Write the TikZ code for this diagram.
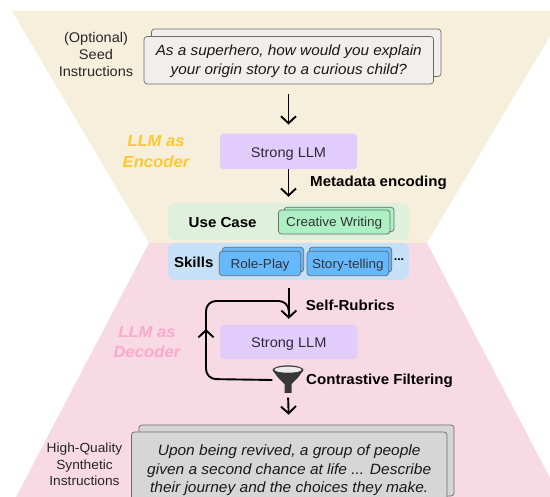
\documentclass[tikz,border=0pt]{standalone}
\usepackage{fontspec}
\setmainfont{Liberation Sans}[FakeStretch=1.04]
\usetikzlibrary{arrows.meta}
\definecolor{creamc}{HTML}{F6EFDC}
\definecolor{pinkc}{HTML}{F8DAE4}
\definecolor{purplec}{HTML}{E2CCFB}
\definecolor{greenp}{HTML}{DFF1DC}
\definecolor{bluep}{HTML}{C5E0F7}
\definecolor{greenb}{HTML}{ADF0C4}
\definecolor{blueb}{HTML}{66B8FF}
\definecolor{seedc}{HTML}{F1EEEC}
\definecolor{outc}{HTML}{D6D6D6}
\definecolor{edgec}{HTML}{6B6B6B}
\definecolor{inkc}{HTML}{2E2A3A}
\definecolor{enc}{HTML}{FFC82C}
\definecolor{dec}{HTML}{FFA8C8}
\newcommand{\fs}[2]{\fontsize{#1}{#2}\selectfont}
\tikzset{
 x=1pt,y=-1pt,
 panel/.style={inner sep=0pt,rounded corners=3pt,anchor=center},
 band/.style={panel,rounded corners=7pt,minimum width=241pt,minimum height=37pt},
 sheet/.style={panel,draw=edgec,line width=.7pt},
 chip/.style={sheet,font=\fs{13}{13}\color{black!80},text height=11pt,text depth=1pt},
 llmbox/.style={panel,fill=purplec,minimum width=137pt,minimum height=35.5pt,font=\fs{14}{14}\color{inkc},text height=13pt,text depth=1pt},
 arr/.style={line width=1.9pt,-{Straight Barb[length=7pt,width=15pt,line width=1.9pt]},black},
 lab/.style={inner sep=0pt,align=center,text depth=0pt},
 boldlab/.style={inner sep=0pt,font=\fs{14.5}{14.5}\bfseries,anchor=west},
 role/.style={inner sep=0pt,align=center},
 quote/.style={sheet,align=center},
}
\begin{document}
\begin{tikzpicture}
\useasboundingbox (0,0) rectangle (550,497);
\begin{scope}
\clip (0,0) rectangle (550,497);
\fill[creamc] (12,11) -- (565,11) -- (427,243) -- (149,243) -- cycle;
\fill[pinkc] (149,243) -- (427,243) -- (560,497) -- (16,497) -- cycle;
\end{scope}

% seed
\node[sheet,fill=seedc,minimum width=289.5pt,minimum height=47.5pt] (seedback) at (296.2,52.8) {};
\node[quote,fill=seedc,minimum width=289.5pt,minimum height=47.5pt,font=\fs{14.7}{19}\itshape\color{black!90},text depth=1pt] (seed) at (288.8,60.2)
  {As a superhero, how would you explain\\your origin story to a curious child?};
\node[lab,font=\fs{14}{17}\color{black!85}] (seedlab) at (96,54.5) {(Optional)\\Seed\\Instructions};

% encoder
\node[llmbox] (llmA) at (288.5,151.5) {Strong LLM};
\node[role,text=enc,font=\fs{16}{21}\bfseries\itshape] (enclab) at (156,152) {LLM as\\Encoder};

% use case
\node[band,fill=greenp] (usepanel) at (288.5,221.5) {};
\node[boldlab,anchor=center] (uselab) at (222.7,222.5) {Use Case};
\node[sheet,fill=greenb,minimum width=110pt,minimum height=24.5pt] (cwback) at (339,219.5) {};
\node[chip,fill=greenb,minimum width=111.5pt,minimum height=24pt] (cw) at (334.2,222) {Creative Writing};

% skills
\node[band,fill=bluep] (skillpanel) at (288.5,261.5) {};
\node[boldlab,anchor=center] (skilllab) at (193.7,262) {Skills};
\node[sheet,fill=blueb,minimum width=81.4pt,minimum height=24.7pt] (rpback) at (263,259.7) {};
\node[chip,fill=blueb,minimum width=81.4pt,minimum height=24.4pt] (rp) at (260,263.5) {Role-Play};
\node[sheet,fill=blueb,minimum width=82.7pt,minimum height=24.7pt] (stback) at (350.4,259.7) {};
\node[chip,fill=blueb,minimum width=81.7pt,minimum height=24.4pt] (st) at (347.9,263.5) {Story-telling};
\node[inner sep=0pt,font=\fs{12}{12}\bfseries] (dots) at (399,260) {...};

% decoder
\node[llmbox,minimum height=34pt] (llmB) at (288.8,342) {Strong LLM};
\node[role,text=dec,font=\fs{16}{20}\bfseries\itshape] (declab) at (147,342) {LLM as\\Decoder};

% funnel
\node[minimum width=31pt,minimum height=27pt,inner sep=0pt] (funnel) at (288,380) {};
\fill[black!78] (272.7,370) .. controls (276,376) and (281,381) .. (284.5,384) -- (284.5,393) -- (291.5,393) -- (291.5,384) .. controls (295,381) and (300,376) .. (303.3,370) -- cycle;
\fill[black!78] (288,370) ellipse [x radius=15.5pt,y radius=4.6pt];
\fill[black!8] (288,369.7) ellipse [x radius=13.5pt,y radius=3pt];

% output
\node[sheet,fill=outc,minimum width=315pt,minimum height=71pt] (outback) at (296.5,460.5) {};
\node[quote,fill=outc,minimum width=315.5pt,minimum height=70pt,font=\fs{14.9}{18.5}\itshape\color{black!90},text depth=0pt] (out) at (289.2,467)
  {\rule{0pt}{15pt}Upon being revived, a group of people\\given a second chance at life ... Describe\\their journey and the choices they make.};
\node[lab,font=\fs{13.2}{16.5}\color{black!85}] (outlab) at (84.5,464.5) {High-Quality\\Synthetic\\Instructions};

% edge labels
\node[boldlab] (meta) at (310,182.5) {Metadata encoding};
\node[boldlab] (rub) at (305.7,305.5) {Self-Rubrics};
\node[boldlab] (filt) at (306,380.5) {Contrastive Filtering};

% connectors
\draw[arr,shorten <=10pt,shorten >=9pt] (llmA.north |- seed.south) -- (llmA.north);
\draw[arr,shorten >=6pt] (llmA.south) -- (llmA.south |- usepanel.north);
\draw[arr,shorten <=8pt,shorten >=6pt] (llmB.north |- skillpanel.south) -- (llmB.north);
\draw[arr,shorten <=4pt,shorten >=17pt] (funnel.south) -- (out.north);
\coordinate (loopbl) at (206,379);
\coordinate (looptl) at (206,301);
\coordinate (loopmid) at (206,329);
\draw[line width=1.9pt,rounded corners=10pt] (funnel.west) -- (loopbl) -- (looptl) -- (llmB.north |- looptl) -- ++(0,6);
\draw[arr] (loopbl) ++(0,-20) -- (loopmid);
\end{tikzpicture}
\end{document}
